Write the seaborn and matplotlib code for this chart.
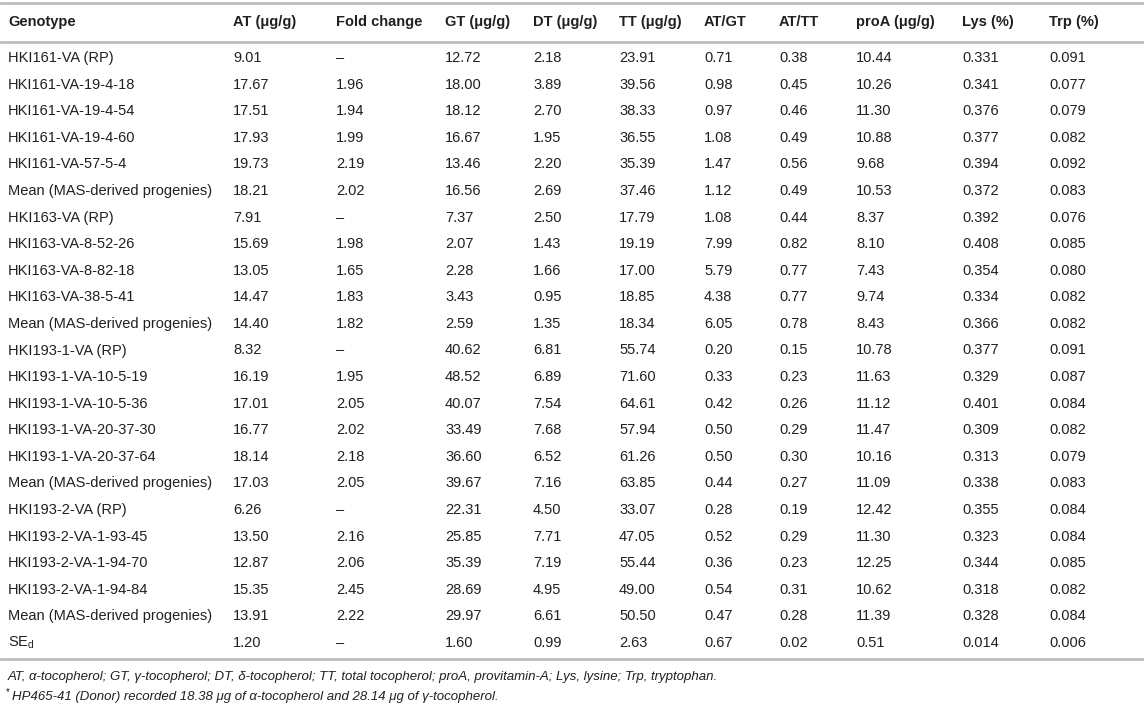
import pandas as pd
import matplotlib.pyplot as plt
import seaborn as sns

# Datos de la tabla
genotype = ['HKI161-VA (RP)', 'HKI161-VA-19-4-18', 'HKI161-VA-19-4-54', 'HKI161-VA-19-4-60',
            'HKI161-VA-57-5-4', 'Mean (MAS-derived progenies)', 'HKI163-VA (RP)',
            'HKI163-VA-8-52-26', 'HKI163-VA-8-82-18', 'HKI163-VA-38-5-41',
            'Mean (MAS-derived progenies)', 'HKI193-1-VA (RP)', 'HKI193-1-VA-10-5-19',
            'HKI193-1-VA-10-5-36', 'HKI193-1-VA-20-37-30', 'HKI193-1-VA-20-37-64',
            'Mean (MAS-derived progenies)', 'HKI193-2-VA (RP)', 'HKI193-2-VA-1-93-45',
            'HKI193-2-VA-1-94-70', 'HKI193-2-VA-1-94-84', 'Mean (MAS-derived progenies)',
            'SE$_\\mathregular{d}$']
at = ['9.01', '17.67', '17.51', '17.93', '19.73', '18.21', '7.91', '15.69', '13.05', '14.47',
      '14.40', '8.32', '16.19', '17.01', '16.77', '18.14', '17.03', '6.26', '13.50', '12.87',
      '15.35', '13.91', '1.20']
fold = ['–', '1.96', '1.94', '1.99', '2.19', '2.02', '–', '1.98', '1.65', '1.83', '1.82', '–',
        '1.95', '2.05', '2.02', '2.18', '2.05', '–', '2.16', '2.06', '2.45', '2.22', '–']
gt = ['12.72', '18.00', '18.12', '16.67', '13.46', '16.56', '7.37', '2.07', '2.28', '3.43',
      '2.59', '40.62', '48.52', '40.07', '33.49', '36.60', '39.67', '22.31', '25.85', '35.39',
      '28.69', '29.97', '1.60']
dt = ['2.18', '3.89', '2.70', '1.95', '2.20', '2.69', '2.50', '1.43', '1.66', '0.95', '1.35',
      '6.81', '6.89', '7.54', '7.68', '6.52', '7.16', '4.50', '7.71', '7.19', '4.95', '6.61', '0.99']
tt = ['23.91', '39.56', '38.33', '36.55', '35.39', '37.46', '17.79', '19.19', '17.00', '18.85',
      '18.34', '55.74', '71.60', '64.61', '57.94', '61.26', '63.85', '33.07', '47.05', '55.44',
      '49.00', '50.50', '2.63']
at_gt = ['0.71', '0.98', '0.97', '1.08', '1.47', '1.12', '1.08', '7.99', '5.79', '4.38', '6.05',
         '0.20', '0.33', '0.42', '0.50', '0.50', '0.44', '0.28', '0.52', '0.36', '0.54', '0.47', '0.67']
at_tt = ['0.38', '0.45', '0.46', '0.49', '0.56', '0.49', '0.44', '0.82', '0.77', '0.77', '0.78',
         '0.15', '0.23', '0.26', '0.29', '0.30', '0.27', '0.19', '0.29', '0.23', '0.31', '0.28', '0.02']
proa = ['10.44', '10.26', '11.30', '10.88', '9.68', '10.53', '8.37', '8.10', '7.43', '9.74',
        '8.43', '10.78', '11.63', '11.12', '11.47', '10.16', '11.09', '12.42', '11.30', '12.25',
        '10.62', '11.39', '0.51']
lys = ['0.331', '0.341', '0.376', '0.377', '0.394', '0.372', '0.392', '0.408', '0.354', '0.334',
       '0.366', '0.377', '0.329', '0.401', '0.309', '0.313', '0.338', '0.355', '0.323', '0.344',
       '0.318', '0.328', '0.014']
trp = ['0.091', '0.077', '0.079', '0.082', '0.092', '0.083', '0.076', '0.085', '0.080', '0.082',
       '0.082', '0.091', '0.087', '0.084', '0.082', '0.079', '0.083', '0.084', '0.084', '0.085',
       '0.082', '0.084', '0.006']

headers = ['Genotype', 'AT (μg/g)', 'Fold change', 'GT (μg/g)', 'DT (μg/g)', 'TT (μg/g)',
           'AT/GT', 'AT/TT', 'proA (μg/g)', 'Lys (%)', 'Trp (%)']

df = pd.DataFrame(dict(zip(headers, [genotype, at, fold, gt, dt, tt, at_gt, at_tt, proa, lys, trp])))

nota1 = ('AT, α-tocopherol; GT, γ-tocopherol; DT, δ-tocopherol; TT, total tocopherol; '
         'proA, provitamin-A; Lys, lysine; Trp, tryptophan.')
nota2 = 'HP465-41 (Donor) recorded 18.38 μg of α-tocopherol and 28.14 μg of γ-tocopherol.'

# Estilo
sns.set_theme(style="white")
plt.rcParams['font.family'] = ['Liberation Sans', 'DejaVu Sans']
plt.rcParams['mathtext.fontset'] = 'custom'
plt.rcParams['mathtext.rm'] = 'Liberation Sans'

fig = plt.figure(figsize=(11.44, 7.16), dpi=100)
ax = fig.add_axes([0, 0, 1, 1])
ax.set_xlim(0, 1144)
ax.set_ylim(716, 0)
ax.axis('off')

col_x = [8, 233, 336, 445, 533, 619, 704, 779, 856, 962, 1049]
txt = '#231f20'
linea = '#bdbdbd'

# lineas horizontales
for y in [3, 42, 659]:
    ax.axhline(y, color=linea, lw=2)

# cabecera
for x, h in zip(col_x, headers):
    ax.text(x, 22, h, fontsize=10.5, fontweight='bold', color=txt, va='center', ha='left')

# filas
y0, dy = 58, (643 - 58) / 22
for i, row in df.iterrows():
    for x, h in zip(col_x, headers):
        ax.text(x, y0 + i * dy, row[h], fontsize=10.5, color=txt, va='center', ha='left')

# notas al pie
ax.text(8, 677, nota1, fontsize=9.5, style='italic', color=txt, va='center', ha='left')
ax.text(6, 692, '*', fontsize=7, color=txt, va='center', ha='left')
ax.text(12, 697, nota2, fontsize=9.5, style='italic', color=txt, va='center', ha='left')

plt.savefig('out.png', dpi=100)
